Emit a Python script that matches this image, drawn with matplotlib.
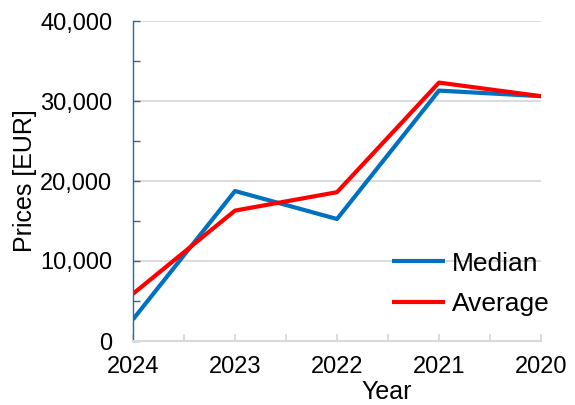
import numpy as np
import matplotlib
matplotlib.use("Agg")
import matplotlib.pyplot as plt
from matplotlib.ticker import FuncFormatter, MultipleLocator

plt.rcParams["font.family"] = ["Liberation Sans", "DejaVu Sans"]

years = ["2024", "2023", "2022", "2021", "2020"]
median = [2700, 18750, 15250, 31300, 30600]
average = [5900, 16300, 18600, 32300, 30600]

BLUE = "#0070C0"
RED = "#FF0000"
GRID = "#D9D9D9"
SPINE = "#2A6A94"

fig = plt.figure(figsize=(5.75, 4.05), dpi=100)
ax = fig.add_axes([133 / 575, 64 / 405, 408 / 575, 320 / 405])

x = np.arange(len(years))
ax.plot(x, median, color=BLUE, lw=3.0, label="Median", solid_capstyle="butt")
ax.plot(x, average, color=RED, lw=3.0, label="Average", solid_capstyle="butt")

ax.set_xlim(0, len(years) - 1)
ax.set_ylim(0, 40000)
ax.set_xticks(x)
ax.set_xticklabels(years)
ax.xaxis.set_minor_locator(MultipleLocator(0.5))
ax.yaxis.set_major_locator(MultipleLocator(10000))
ax.yaxis.set_minor_locator(MultipleLocator(5000))
ax.yaxis.set_major_formatter(FuncFormatter(lambda v, _: f"{v:,.0f}"))

ax.grid(axis="y", which="major", color=GRID, lw=1.3)
ax.set_axisbelow(True)

for s in ("top", "right"):
    ax.spines[s].set_visible(False)
ax.spines["left"].set_color(SPINE)
ax.spines["left"].set_linewidth(1.0)
ax.spines["bottom"].set_color(GRID)
ax.spines["bottom"].set_linewidth(1.5)

ax.tick_params(axis="y", which="both", direction="in", length=5, width=1,
               color=SPINE, labelsize=17, pad=15)
ax.tick_params(axis="x", which="both", direction="in", length=5, width=1.3,
               color=GRID, labelsize=17, pad=11)

ax.set_ylabel("Prices [EUR]", fontsize=18)
ax.yaxis.set_label_coords(-0.235, 0.5)
ax.set_xlabel("Year", fontsize=18, va="center")
ax.xaxis.set_label_coords(0.6225, -0.16)

ax.legend(loc="lower right", bbox_to_anchor=(1.047, 0.045), frameon=False,
          fontsize=19, handlelength=2.0, handletextpad=0.25, labelspacing=0.62,
          borderaxespad=0)

fig.savefig("out.png", dpi=100)
